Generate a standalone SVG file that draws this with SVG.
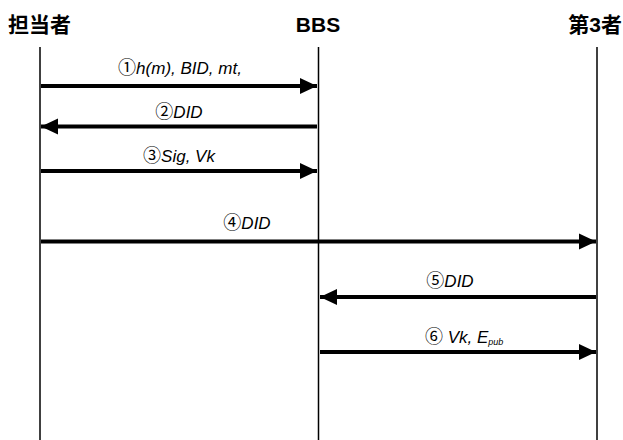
<svg xmlns="http://www.w3.org/2000/svg" width="623" height="440" viewBox="0 0 623 440">
  <defs>
    <style>
      .head { font-family: "Liberation Sans", "Noto Sans CJK JP", sans-serif; font-weight: bold; font-size: 21px; fill: #000; }
      .lbl { font-family: "Liberation Sans", "Noto Sans CJK JP", sans-serif; font-style: italic; font-size: 17px; fill: #000; }
      .num { font-style: normal; font-family: "Noto Sans CJK JP", sans-serif; font-size: 18px; }
      .life { stroke: #000; stroke-width: 1.5; fill: none; }
      .msg { stroke: #000; stroke-width: 4; fill: none; }
    </style>
    <marker id="ah" viewBox="0 0 10 10" refX="10" refY="5" markerUnits="userSpaceOnUse" markerWidth="17" markerHeight="17" orient="auto">
      <path d="M0,0.3 L10,5 L0,9.7 Z" fill="#000"/>
    </marker>
  </defs>

  <g id="actor-tantousha">
    <text class="head" x="8" y="32">担当者</text>
    <line class="life" x1="40" y1="47" x2="40" y2="440"/>
  </g>
  <g id="actor-bbs">
    <text class="head" x="318" y="32" text-anchor="middle">BBS</text>
    <line class="life" x1="318.5" y1="47" x2="318.5" y2="440"/>
  </g>
  <g id="actor-third">
    <text class="head" x="622" y="32" text-anchor="end">第3者</text>
    <line class="life" x1="597" y1="47" x2="597" y2="440"/>
  </g>

  <g id="messages">
    <line class="msg" x1="41" y1="86" x2="317" y2="86" marker-end="url(#ah)"/>
    <line class="msg" x1="317" y1="126.5" x2="41" y2="126.5" marker-end="url(#ah)"/>
    <line class="msg" x1="41" y1="171" x2="317" y2="171" marker-end="url(#ah)"/>
    <line class="msg" x1="41" y1="241.5" x2="596" y2="241.5" marker-end="url(#ah)"/>
    <line class="msg" x1="596" y1="297" x2="320" y2="297" marker-end="url(#ah)"/>
    <line class="msg" x1="320" y1="352" x2="596" y2="352" marker-end="url(#ah)"/>
  </g>

  <g id="labels">
    <text class="lbl" x="180" y="74" text-anchor="middle"><tspan class="num">①</tspan>h(m), BID, mt,</text>
    <text class="lbl" x="179" y="118" text-anchor="middle"><tspan class="num">②</tspan>DID</text>
    <text class="lbl" x="179" y="162" text-anchor="middle"><tspan class="num">③</tspan>Sig, Vk</text>
    <text class="lbl" x="247" y="229" text-anchor="middle"><tspan class="num">④</tspan>DID</text>
    <text class="lbl" x="450" y="287" text-anchor="middle"><tspan class="num">⑤</tspan>DID</text>
    <text class="lbl" x="425" y="343"><tspan class="num">⑥</tspan> Vk, E<tspan font-size="9" dy="2">pub</tspan></text>
  </g>
</svg>
